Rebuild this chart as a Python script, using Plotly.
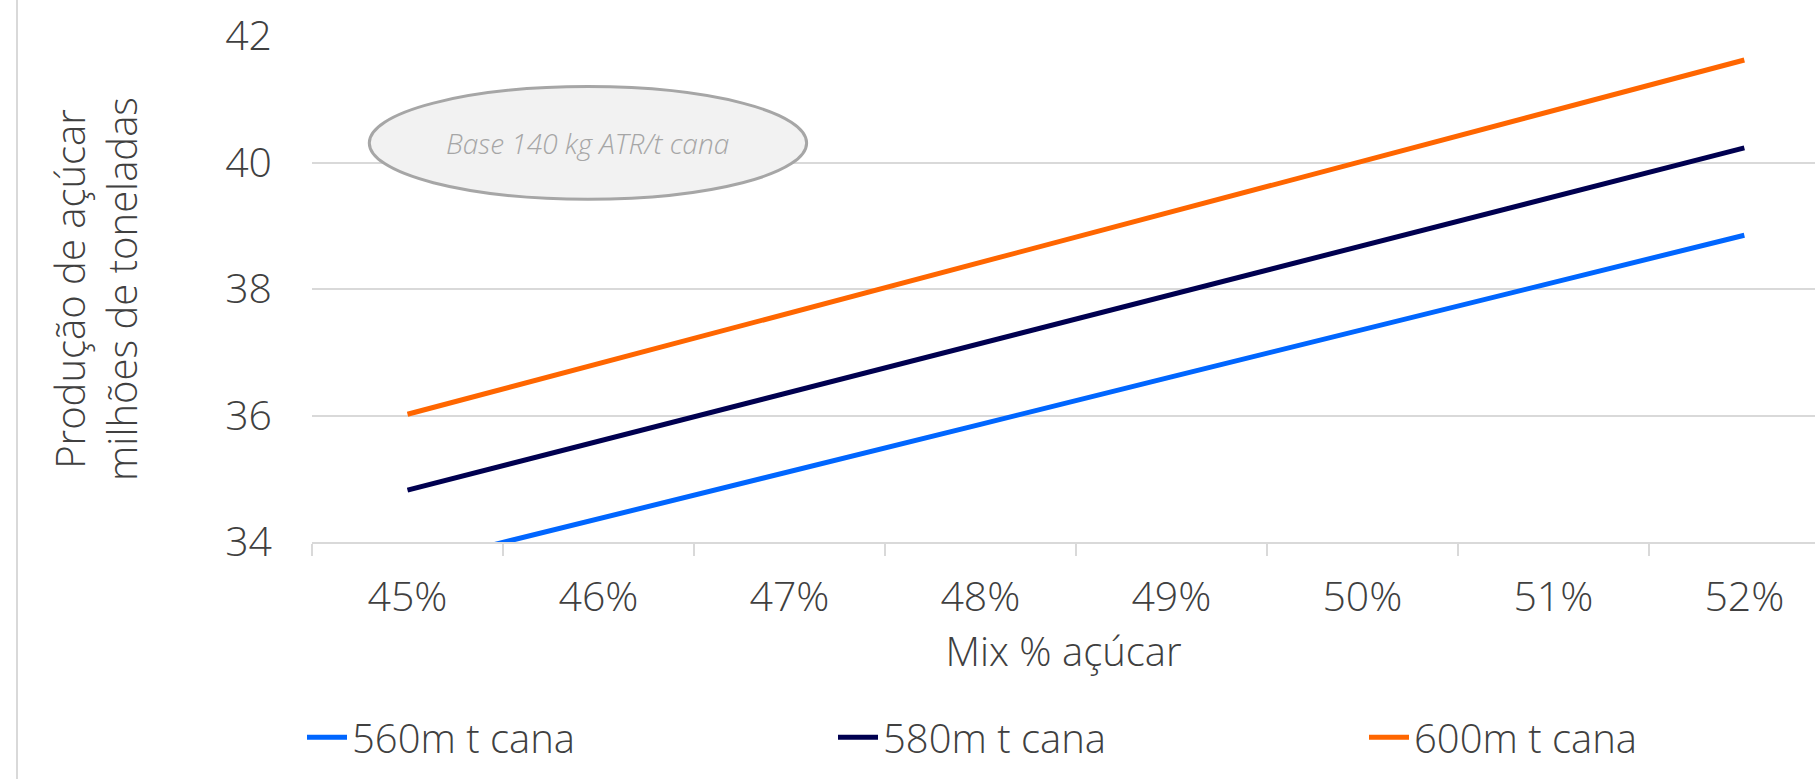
import plotly.graph_objects as go

# Sugar mix (share of ATR directed to sugar)
mix = ["45%", "46%", "47%", "48%", "49%", "50%", "51%", "52%"]

# Sugar production (million tonnes) for each cane crush scenario
cane_560 = [33.62, 34.36, 35.11, 35.86, 36.61, 37.35, 38.10, 38.85]
cane_580 = [34.82, 35.59, 36.36, 37.14, 37.92, 38.69, 39.46, 40.23]
cane_600 = [36.02, 36.82, 37.62, 38.42, 39.22, 40.02, 40.82, 41.62]

series_names = ["560m t cana", "580m t cana", "600m t cana"]
series_colors = ["#0066ff", "#000050", "#ff6600"]

FONT = "Open Sans"
TEXT = "#404040"
GRID = "#d9d9d9"

W, H = 1815, 779
L, T, B = 312, 36, 237
plot_h = H - T - B
plot_w = W - L

# one legend per series so the entries can sit at fixed columns
legend_ids = ["legend", "legend2", "legend3"]
legend_left_px = [302, 833, 1364]

fig = go.Figure()
for name, vals, col, lg in zip(series_names, [cane_560, cane_580, cane_600],
                               series_colors, legend_ids):
    fig.add_trace(go.Scatter(
        x=mix, y=vals, mode="lines", name=name,
        line=dict(color=col, width=5),
        legend=lg, hoverinfo="skip",
    ))

legend_font = dict(family=FONT, size=40, color=TEXT, weight=300)
legend_layouts = {}
for lg, px in zip(legend_ids, legend_left_px):
    legend_layouts[lg] = dict(
        orientation="h", x=(px - L) / plot_w, xanchor="left",
        y=-0.386, yanchor="middle", font=legend_font,
        itemwidth=40, bgcolor="rgba(0,0,0,0)",
    )

fig.update_layout(
    width=W, height=H,
    margin=dict(l=L, r=0, t=T, b=B, pad=0, autoexpand=False),
    paper_bgcolor="white", plot_bgcolor="white",
    font=dict(family=FONT, size=40, color=TEXT, weight=300),
    showlegend=True,
    **legend_layouts,
    xaxis=dict(
        type="category", range=[-0.5, 7.37],
        showgrid=False, showline=True, linecolor=GRID, linewidth=1.5,
        ticks="outside", tickson="boundaries", ticklen=12, tickcolor=GRID, tickwidth=1.5,
        ticklabelstandoff=18,
        tickfont=dict(family=FONT, size=41, color=TEXT, weight=300),
        title=dict(text="Mix % açúcar", standoff=0,
                   font=dict(family=FONT, size=40, color=TEXT, weight=300)),
        fixedrange=True,
    ),
    yaxis=dict(
        range=[34, 42], dtick=2, tick0=34,
        showgrid=True, gridcolor=GRID, gridwidth=1.5,
        zeroline=False, showline=False, ticks="",
        ticklabelstandoff=39,
        tickfont=dict(family=FONT, size=41, color=TEXT, weight=300),
        title=dict(text="Produção de açúcar<br>milhões de toneladas", standoff=75,
                   font=dict(family=FONT, size=40, color=TEXT, weight=300)),
        fixedrange=True,
    ),
)

# Callout bubble with the ATR assumption
fig.add_shape(
    type="circle", xref="x", yref="y",
    x0=-0.2, x1=2.09, y0=39.42, y1=41.2,
    fillcolor="#f2f2f2", line=dict(color="#a6a6a6", width=3), layer="above",
)
fig.add_annotation(
    x=0.945, y=40.31, xref="x", yref="y", showarrow=False,
    text="<i>Base 140 kg ATR/t cana</i>",
    font=dict(family=FONT, size=28, color="#a6a6a6", weight=300),
)

# Thin frame line along the left edge of the figure
fx = (17 - L) / plot_w
fig.add_shape(
    type="line", xref="paper", yref="paper",
    x0=fx, x1=fx, y0=-B / plot_h, y1=(plot_h + T) / plot_h,
    line=dict(color=GRID, width=2), layer="below",
)

fig.write_html("out.html")
